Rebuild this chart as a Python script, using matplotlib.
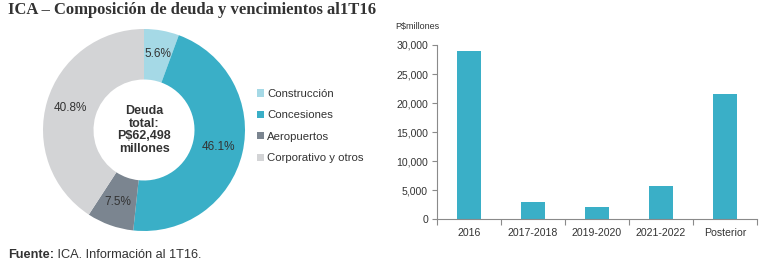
import matplotlib
matplotlib.use("Agg")
import matplotlib.pyplot as plt
from matplotlib.patches import Patch
from matplotlib.ticker import FuncFormatter, FixedLocator

plt.rcParams['font.family'] = ['Liberation Sans', 'DejaVu Sans']

# Data
segments = ["Construcción", "Concesiones", "Aeropuertos", "Corporativo y otros"]
shares = [5.6, 46.1, 7.5, 40.8]
seg_colors = ["#a5d9e6", "#3aafc7", "#7b8590", "#d3d4d6"]

periods = ["2016", "2017-2018", "2019-2020", "2021-2022", "Posterior"]
maturities = [29000, 2900, 2150, 5800, 21600]
bar_color = "#3aafc7"

text_color = "#333333"
axis_color = "#8a8a8a"

W, H = 759, 268
fig = plt.figure(figsize=(W / 100, H / 100), dpi=100)

# Title
fig.text(8 / W, 1 - 10 / H, "ICA – Composición de deuda y vencimientos al1T16",
         fontsize=12, fontweight='bold', family=['Liberation Serif', 'DejaVu Serif'],
         color=text_color, ha='left', va='center')

# Donut
cx, cy, r = 144, 130, 101
axp = fig.add_axes([(cx - r) / W, 1 - (cy + r) / H, 2 * r / W, 2 * r / H])
wedges, texts, autotexts = axp.pie(
    shares, colors=seg_colors, startangle=90, counterclock=False,
    radius=1.0, wedgeprops=dict(width=0.5, edgecolor='none', linewidth=0),
    autopct=lambda p: f"{p:.1f}%", pctdistance=0.76,
    textprops=dict(fontsize=8.5, color=text_color))
axp.set_xlim(-1, 1)
axp.set_ylim(-1, 1)
axp.set_aspect('equal')
axp.axis('off')
axp.text(0, 0.0, "Deuda\ntotal:\nP$62,498\nmillones", ha='center', va='center',
         fontsize=9, fontweight='bold', color=text_color, linespacing=1.1)

handles = [Patch(facecolor=c, edgecolor='none') for c in seg_colors]
fig.legend(handles, segments, loc='upper left',
           bbox_to_anchor=(257 / W, 1 - 89 / H), frameon=False,
           fontsize=8.2, handlelength=0.6, handleheight=0.6, handletextpad=0.3,
           labelspacing=1.0, borderaxespad=0, borderpad=0, labelcolor=text_color)

# Bar chart
y0, y1 = 219.3, 45
axb = fig.add_axes([437 / W, 1 - y0 / H, (757 - 437) / W, (y0 - y1) / H])
x = list(range(len(periods)))
axb.bar(x, maturities, width=0.375, color=bar_color, zorder=2)
axb.set_xlim(-0.5, len(periods) - 0.5)
axb.set_ylim(0, 30000)
axb.set_yticks(range(0, 30001, 5000))
axb.yaxis.set_major_formatter(FuncFormatter(lambda v, p: f"{int(v):,}"))
axb.set_xticks(x)
axb.set_xticklabels(periods)
axb.xaxis.set_minor_locator(FixedLocator([i - 0.5 for i in range(len(periods) + 1)]))
axb.tick_params(axis='x', which='major', length=0, pad=6, labelsize=7.6, colors=text_color)
axb.tick_params(axis='x', which='minor', length=4, width=0.8, color=axis_color)
axb.tick_params(axis='y', length=3.5, width=0.8, color=axis_color, labelsize=7.6,
                labelcolor=text_color, pad=3)
for s in ['top', 'right']:
    axb.spines[s].set_visible(False)
for s in ['left', 'bottom']:
    axb.spines[s].set_color(axis_color)
    axb.spines[s].set_linewidth(0.8)
fig.text(395 / W, 1 - 27 / H, "P$millones", fontsize=6.5, color=text_color,
         ha='left', va='center')

# Footer
t1 = fig.text(8 / W, 1 - 255 / H, "Fuente:", fontsize=9.2, fontweight='bold',
              color=text_color, ha='left', va='center')
axp.annotate(" ICA. Información al 1T16.", xy=(1, 0.5), xycoords=t1,
             ha='left', va='center', fontsize=9.2, color=text_color,
             annotation_clip=False)

fig.savefig("out.png", dpi=100)
